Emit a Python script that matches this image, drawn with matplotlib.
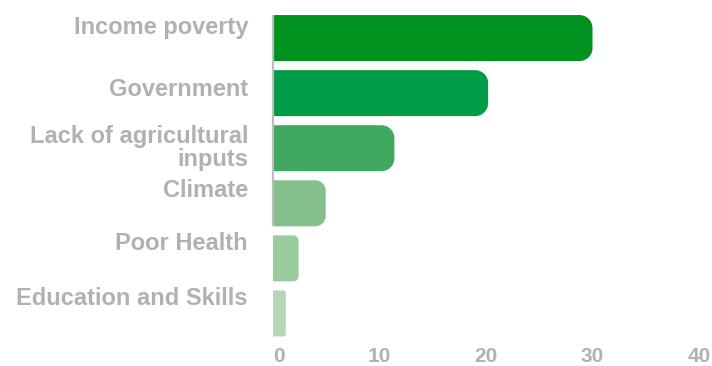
import matplotlib.pyplot as plt
from matplotlib.path import Path
from matplotlib.patches import PathPatch

# Drivers and their scores
categories = ["Income poverty", "Government", "Lack of agricultural\ninputs",
              "Climate", "Poor Health", "Education and Skills"]
values = [30, 20.2, 11.4, 4.95, 2.4, 1.2]
colors = ["#00921e", "#009b46", "#41a85f", "#85bf8c", "#9acb9e", "#b5d7b5"]
xticks = [0, 10, 20, 30, 40]

GRAY = "#b2b0b0"
plt.rcParams['font.family'] = ['Liberation Sans', 'DejaVu Sans']

fig = plt.figure(figsize=(7.12, 3.66), dpi=100)
ax = fig.add_axes([273 / 712, 1 - 341 / 366, 426 / 712, 330.5 / 366])
ax.set_xlim(0, 40)
ax.set_ylim(len(categories) - 0.5, -0.5)

# pixels per data unit, used to keep corners circular
px_x = 426 / 40
px_y = 330.5 / len(categories)
bar_h = 0.835
k = 0.5523


def rounded_bar(y, w, color):
    r_px = min(13, 0.2 * w * px_x)
    rx, ry = r_px / px_x, r_px / px_y
    y0, y1 = y - bar_h / 2, y + bar_h / 2
    verts = [(0, y0), (w - rx, y0),
             (w - rx + k * rx, y0), (w, y0 + ry - k * ry), (w, y0 + ry),
             (w, y1 - ry),
             (w, y1 - ry + k * ry), (w - rx + k * rx, y1), (w - rx, y1),
             (0, y1), (0, y0)]
    codes = [Path.MOVETO, Path.LINETO,
             Path.CURVE4, Path.CURVE4, Path.CURVE4,
             Path.LINETO,
             Path.CURVE4, Path.CURVE4, Path.CURVE4,
             Path.LINETO, Path.CLOSEPOLY]
    ax.add_patch(PathPatch(Path(verts, codes), facecolor=color,
                           edgecolor='none'))


for i, (v, c) in enumerate(zip(values, colors)):
    rounded_bar(i, v, c)

# category labels sit a little above the bar centre
label_shift = [11, 4, 0, 13, 15, 15]
for i, (name, dy) in enumerate(zip(categories, label_shift)):
    ax.annotate(name, xy=(0, i), xycoords='data',
                xytext=(-18, dy * 0.72), textcoords='offset points',
                ha='right', va='center', fontsize=17, fontweight='bold',
                color=GRAY, linespacing=1.0, annotation_clip=False)

# short vertical axis line
ax.plot([0, 0], [-bar_h / 2, 3 + bar_h / 2], color="#bdbdbd", lw=1.6,
        solid_capstyle='butt', clip_on=False, zorder=3)

ax.set_yticks([])
ax.set_xticks(xticks)
ax.set_xticklabels([str(t) for t in xticks], fontsize=15, fontweight='bold',
                   color=GRAY)
ax.tick_params(axis='x', length=0, pad=4)
ax.get_xticklabels()[0].set_horizontalalignment('left')
for s in ax.spines.values():
    s.set_visible(False)

fig.savefig("out.png", dpi=100)
